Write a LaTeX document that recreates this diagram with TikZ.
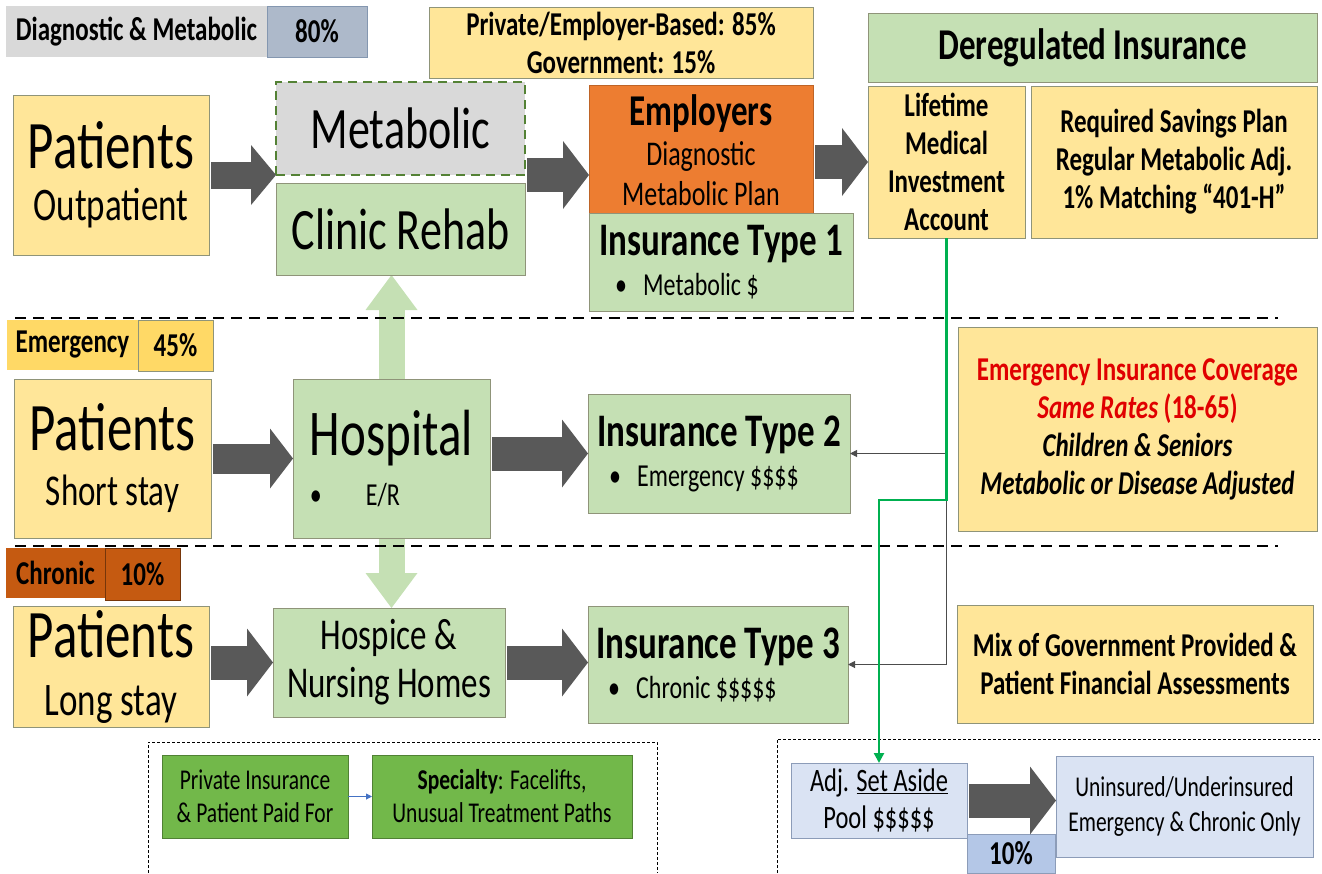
\documentclass[tikz,border=0pt]{standalone}
\usepackage{xcolor}
\usepackage{fontspec}
\setmainfont{Carlito}[FakeStretch=0.75]
\usetikzlibrary{arrows.meta,backgrounds}

\definecolor{sand}{HTML}{FFE699}
\definecolor{sage}{HTML}{C5E0B4}
\definecolor{ash}{HTML}{D9D9D9}
\definecolor{slate}{HTML}{ADB9CA}
\definecolor{slatedge}{HTML}{8497B0}
\definecolor{gold}{HTML}{FFD966}
\definecolor{rust}{HTML}{C55A11}
\definecolor{carrot}{HTML}{ED7D31}
\definecolor{leaf}{HTML}{72B84A}
\definecolor{ice}{HTML}{DAE3F3}
\definecolor{sky}{HTML}{B4C7E7}
\definecolor{bluedge}{HTML}{8C9CB8}
\definecolor{iron}{HTML}{595959}
\definecolor{edge}{HTML}{8F9479}
\definecolor{moss}{HTML}{548235}
\definecolor{mint}{HTML}{00B050}
\definecolor{alarm}{HTML}{E00000}
\definecolor{steel}{HTML}{4472C4}

\newcommand{\fsz}[2]{\fontsize{\fpeval{#1*1.333}}{#2}\selectfont}

\begin{document}
\begin{tikzpicture}[x=1pt,y=-1pt,
        dims/.style 2 args={minimum width=#1pt,minimum height=#2pt},
        box/.style={draw=edge,line width=0.8pt,inner sep=0pt,outer sep=0pt,align=center},
        yel/.style={box,fill=sand},
        grn/.style={box,fill=sage},
        blu/.style={box,fill=ice,draw=bluedge},
        tag/.style={inner sep=0pt,outer sep=0pt,align=center,font=\fsz{25}{29}\bfseries},
        bigarrow/.style={draw=iron,line width=34pt,shorten <=2pt,-{Triangle[length=26pt,width=68pt,line width=0pt]}},
        updown/.style={draw=sage,line width=26pt,{Triangle[length=35pt,width=52pt,line width=0pt]}-{Triangle[length=35pt,width=52pt,line width=0pt]}},
        link/.style={draw=black!70,line width=1pt,-{Triangle[length=7pt,width=7pt]}},
        greenlink/.style={draw=mint,line width=2.4pt,-{Triangle[length=10pt,width=10pt]}},
        bluelink/.style={draw=steel,line width=1pt,-{Triangle[length=6pt,width=6pt]}},
        sep/.style={line width=2pt,dash pattern=on 11pt off 7pt},
        frame/.style={line width=0.8pt,dash pattern=on 3pt off 2pt}]
        \useasboundingbox (0,0) rectangle (1322,873);

        \node[tag,fill=ash,dims={261}{51}] (diag) at (136.5,31.5) {Diagnostic \& Metabolic};
        \node[tag,fill=slate,draw=slatedge,line width=0.8pt,dims={100}{51}] (diagpct) at (317,31.5) {80\%};
        \node[yel,dims={384}{71},font=\fsz{25}{38}\bfseries] (private) at (621,42.5) {Private/Employer-Based: 85\%\\Government: 15\%};
        \node[grn,dims={449}{69},font=\fsz{33}{38}\bfseries] (dereg) at (1092.5,47.5) {Deregulated Insurance};
        \node[yel,dims={157}{152},font=\fsz{25}{38}\bfseries] (lifetime) at (946.5,162) {Lifetime\\Medical\\Investment\\Account};
        \node[yel,dims={286}{152},font=\fsz{25}{38}\bfseries] (savings) at (1174,162) {Required Savings Plan\\Regular Metabolic Adj.\\1\% Matching “401-H”};
        \node[yel,dims={196}{160},font=\fsz{35}{52}] (outpat) at (111,175) {{\fsz{51}{52}Patients}\\Outpatient};
        \node[box,fill=ash,draw=moss,line width=2pt,dash pattern=on 9pt off 6pt,dims={249}{93},font=\fsz{44}{48}] (metabolic) at (400.5,128.5) {Metabolic};
        \node[grn,dims={249}{92},font=\fsz{44}{48}] (clinic) at (400.5,229) {Clinic Rehab};
        \node[box,fill=carrot,draw=carrot!80!black,dims={224}{130},font=\fsz{26}{40}] (employers) at (701,150) {{\fsz{33}{40}\bfseries Employers}\\Diagnostic\\Metabolic Plan};
        \node[grn,dims={264}{98},font=\fsz{24}{40},align=left] (type1) at (721,262) {{\fsz{35}{40}\bfseries Insurance Type 1}\\\hspace*{16pt}•\enspace Metabolic \$};

        \node[tag,fill=gold,dims={131}{50}] (emlabel) at (72.5,345) {Emergency};
        \node[tag,fill=gold,draw=edge,line width=0.8pt,dims={75}{51}] (empct) at (175.5,345.5) {45\%};
        \node[yel,dims={197}{159},font=\fsz{33}{55}] (shortstay) at (112.5,458.5) {{\fsz{51}{55}Patients}\\Short stay};
        \node[grn,dims={197}{159},font=\fsz{24}{50},align=left] (hospital) at (391.5,458.5) {{\fsz{49}{50}Hospital}\\•\hspace{44pt}E/R};
        \node[grn,dims={262}{119},font=\fsz{24}{40},align=left] (type2) at (719,453.5) {{\fsz{35}{40}\bfseries Insurance Type 2}\\\hspace*{12pt}•\enspace Emergency \$\$\$\$};
        \node[yel,dims={359}{204},font=\fsz{25}{38}\bfseries] (emcover) at (1137.5,429) {\textcolor{alarm}{Emergency Insurance Coverage}\\\textcolor{alarm}{\itshape Same Rates} \textcolor{alarm}{(18-65)}\\{\itshape Children \& Seniors}\\{\itshape Metabolic or Disease Adjusted}};

        \node[tag,fill=rust,dims={99}{50}] (chlabel) at (55.5,573) {Chronic};
        \node[tag,fill=rust,draw=rust!60!black,line width=0.8pt,dims={75}{52}] (chpct) at (142.5,574) {10\%};
        \node[yel,dims={196}{121},font=\fsz{35}{58}] (longstay) at (111,666.5) {{\fsz{51}{58}Patients}\\Long stay};
        \node[grn,dims={232}{109},font=\fsz{33}{48}] (hospice) at (389,662.5) {Hospice \&\\Nursing Homes};
        \node[grn,dims={260}{117},font=\fsz{24}{40},align=left] (type3) at (718,664.5) {{\fsz{35}{40}\bfseries Insurance Type 3}\\\hspace*{12pt}•\enspace Chronic \$\$\$\$\$};
        \node[yel,dims={356}{118},font=\fsz{25}{38}\bfseries] (mix) at (1135,664) {Mix of Government Provided \&\\Patient Financial Assessments};

        \node[box,fill=leaf,draw=leaf!70!black,dims={186}{83},font=\fsz{21.5}{33}] (privins) at (255,796.5) {Private Insurance\\\& Patient Paid For};
        \node[box,fill=leaf,draw=leaf!70!black,dims={260}{83},font=\fsz{21.5}{33}] (special) at (502,796.5) {\textbf{Specialty}: Facelifts,\\Unusual Treatment Paths};
        \node[blu,dims={176}{75},font=\fsz{24.5}{37}] (adj) at (879,800.5) {Adj. \underline{Set Aside}\\Pool \$\$\$\$\$};
        \node[blu,fill=sky,dims={88}{39},font=\fsz{25}{29}\bfseries] (adjpct) at (1011,853.5) {10\%};
        \node[blu,dims={257}{101},font=\fsz{21.5}{35}] (uninsured) at (1184.5,806.5) {Uninsured/Underinsured\\Emergency \& Chronic Only};

        \begin{scope}[on background layer]
            \draw[updown] (hospital.north |- clinic.south) -- (hospital.south |- hospice.north);
        \end{scope}

        \draw[bigarrow,line width=27pt,-{Triangle[length=25pt,width=60pt,line width=0pt]}] (outpat.east) -- (outpat.east -| metabolic.west);
        \draw[bigarrow] (metabolic.south east) -- (metabolic.south east -| employers.west);
        \draw[bigarrow] (employers.east |- lifetime.west) -- (lifetime.west);
        \draw[bigarrow,line width=30pt,-{Triangle[length=23pt,width=60pt,line width=0pt]}] (shortstay.east) -- (hospital.west);
        \draw[bigarrow] (hospital.east |- type2.west) -- (type2.west);
        \draw[bigarrow] (longstay.east |- hospice.west) -- (hospice.west);
        \draw[bigarrow] (hospice.east) -- (hospice.east -| type3.west);
        \draw[bigarrow] (adj.east) -- (adj.east -| uninsured.west);

        \draw[sep] (15,318) -- (1278,318);
        \draw[sep] (15,546) -- (1278,546);
        \draw[frame] (148,873) -- (148,742) -- (657,742) -- (657,873);
        \draw[frame] (777,873) -- (777,739) -- (1320,739);

        \coordinate (split) at (946.5,500);
        \draw[link] (lifetime.south) |- (type3.east);
        \draw[link] (split |- type2.east) -- (type2.east);
        \draw[greenlink] (lifetime.south) -- (split) -| (adj.north);
        \draw[bluelink] (privins.east) -- (special.west);
\end{tikzpicture}
\end{document}
